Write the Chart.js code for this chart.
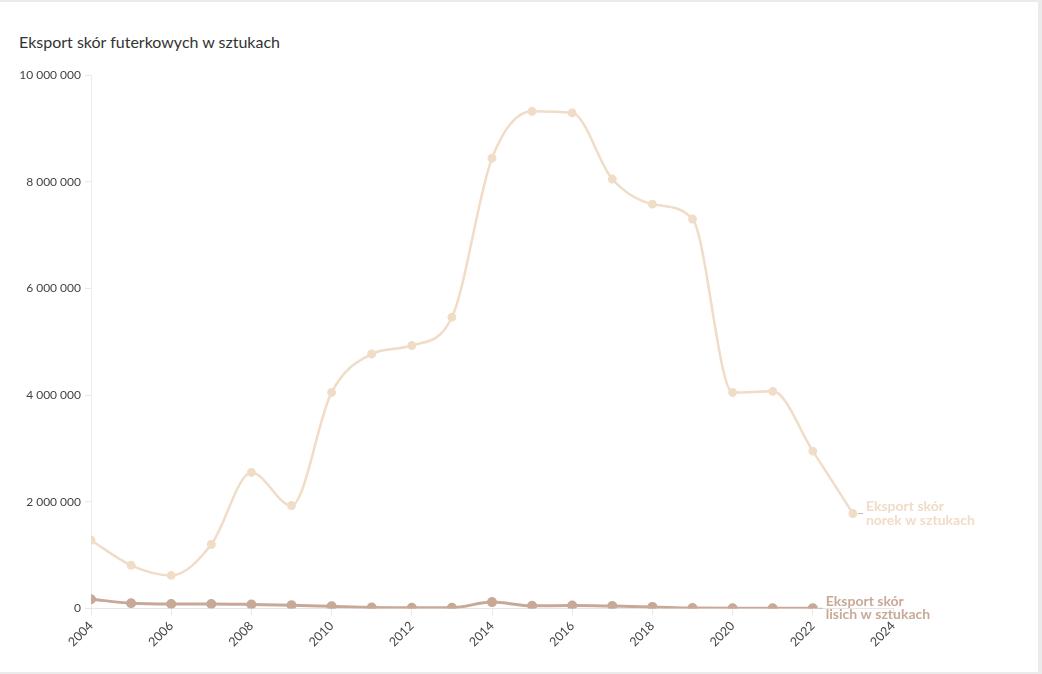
<!DOCTYPE html>
<html lang="pl">

<head>
  <meta charset="UTF-8">
  <title>Eksport skór futerkowych</title>
  <script src="https://cdn.jsdelivr.net/npm/chart.js"></script>
  <style>
    body { margin: 0; background: #ebebeb; font-family: Lato, sans-serif; }
    #card { position: relative; width: 1038px; height: 670px; margin-top: 2px; background: #fff; }
    #title { position: absolute; left: 19px; top: 30px; font-size: 16px; color: #333; }
    #chart { position: absolute; left: 0; top: 0; }
  </style>
</head>

<body>
  <div id="card">
    <div id="title">Eksport skór futerkowych w sztukach</div>
    <canvas id="chart" width="1038" height="670"></canvas>
  </div>

  <script>
    // lata i wartości
    const minkYears = [2004, 2005, 2006, 2007, 2008, 2009, 2010, 2011, 2012, 2013, 2014, 2015, 2016, 2017, 2018, 2019, 2020, 2021, 2022, 2023];
    const minkValues = [1280000, 810000, 620000, 1200000, 2550000, 1930000, 4050000, 4770000, 4930000, 5460000, 8440000, 9320000, 9290000, 8050000, 7580000, 7300000, 4050000, 4070000, 2950000, 1780000];
    const foxYears = [2004, 2005, 2006, 2007, 2008, 2009, 2010, 2011, 2012, 2013, 2014, 2015, 2016, 2017, 2018, 2019, 2020, 2021, 2022];
    const foxValues = [175000, 100000, 85000, 85000, 75000, 60000, 40000, 20000, 15000, 15000, 120000, 50000, 55000, 45000, 30000, 8000, 6000, 4000, 4000];
    const minkLabel = ['Eksport skór', 'norek w sztukach'];
    const foxLabel = ['Eksport skór', 'lisich w sztukach'];

    const minkColor = '#f0dcc7';
    const foxColor = '#c8a997';

    const toPoints = (xs, ys) => xs.map((x, i) => ({ x: x, y: ys[i] }));

    // podpis na końcu linii
    const endLabels = {
      id: 'endLabels',
      afterDatasetsDraw(chart) {
        const ctx = chart.ctx;
        chart.data.datasets.forEach((ds, i) => {
          const meta = chart.getDatasetMeta(i);
          const last = meta.data[meta.data.length - 1];
          ctx.save();
          ctx.strokeStyle = '#bbb';
          ctx.lineWidth = 1;
          ctx.beginPath();
          ctx.moveTo(last.x + 5, last.y);
          ctx.lineTo(last.x + 10, last.y);
          ctx.stroke();
          ctx.fillStyle = ds.borderColor;
          ctx.font = 'bold 14px Lato';
          ctx.textBaseline = 'middle';
          ctx.fillText(ds.endText[0], last.x + 13, last.y - 7);
          ctx.fillText(ds.endText[1], last.x + 13, last.y + 6.5);
          ctx.restore();
        });
      }
    };

    new Chart(document.getElementById('chart'), {
      type: 'line',
      data: {
        datasets: [{
          label: 'norki',
          data: toPoints(minkYears, minkValues),
          borderColor: minkColor,
          backgroundColor: minkColor,
          borderWidth: 2.5,
          pointRadius: 3.2,
          cubicInterpolationMode: 'monotone',
          endText: minkLabel
        }, {
          label: 'lisy',
          data: toPoints(foxYears, foxValues),
          borderColor: foxColor,
          backgroundColor: foxColor,
          borderWidth: 3,
          pointRadius: 3.5,
          cubicInterpolationMode: 'monotone',
          endText: foxLabel
        }]
      },
      options: {
        responsive: false,
        animation: false,
        layout: { padding: { top: 73, right: 145, left: 0, bottom: 0 } },
        plugins: {
          legend: { display: false },
          tooltip: { enabled: false }
        },
        scales: {
          x: {
            type: 'linear',
            min: 2004,
            max: 2024,
            afterFit: s => { s.height = 63.5; },
            ticks: {
              stepSize: 2,
              maxRotation: 45,
              minRotation: 45,
              color: '#444',
              font: { family: 'Lato', size: 12.5 },
              callback: v => String(v)
            },
            grid: { drawOnChartArea: false, tickLength: 7, color: '#e8e8e8' },
            border: { color: '#e6e6e6' }
          },
          y: {
            min: 0,
            max: 10000000,
            afterFit: s => { s.width = 91; },
            ticks: {
              stepSize: 2000000,
              color: '#444',
              padding: 4,
              font: { family: 'Lato', size: 12 },
              callback: v => String(v).replace(/\B(?=(\d{3})+(?!\d))/g, ' ')
            },
            grid: { drawOnChartArea: false, tickLength: 6, color: '#e8e8e8' },
            border: { color: '#ececec' }
          }
        }
      },
      plugins: [endLabels]
    });
  </script>
</body>

</html>
